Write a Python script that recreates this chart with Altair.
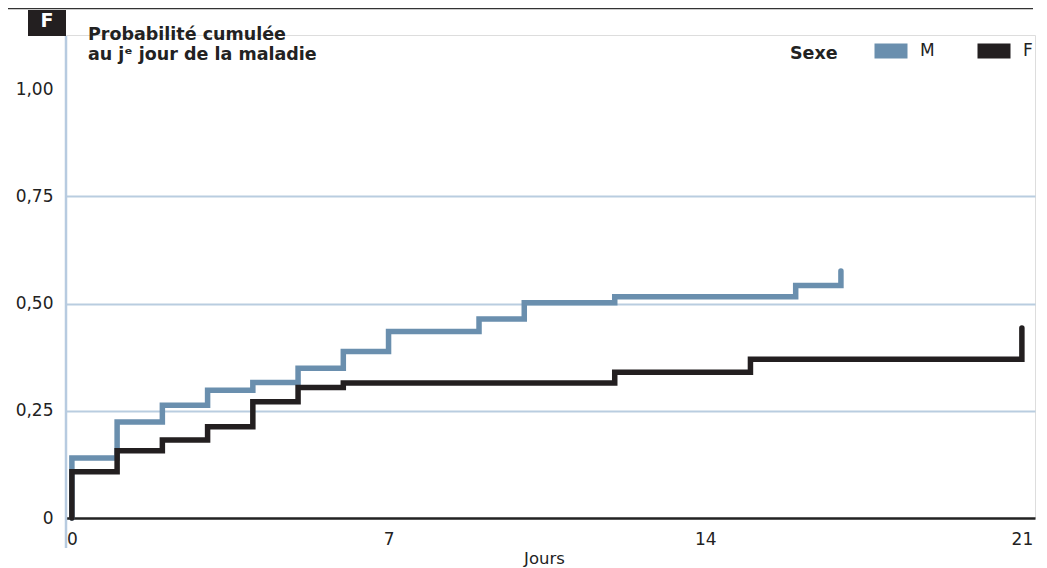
import altair as alt
import pandas as pd

# ---- data ----
days_M = [0, 0, 1, 2, 3, 4, 5, 6, 7, 9, 10, 12, 16, 17]
prob_M = [0, 0.140, 0.224, 0.263, 0.298, 0.316, 0.349, 0.388, 0.435, 0.464, 0.502, 0.516, 0.542, 0.576]
days_F = [0, 0, 1, 2, 3, 4, 5, 6, 12, 15, 21]
prob_F = [0, 0.108, 0.157, 0.182, 0.213, 0.271, 0.304, 0.315, 0.340, 0.370, 0.443]
sexes = ["M", "F"]
colors = ["#6a8fae", "#231f20"]
x_ticks = [0, 7, 14, 21]
y_ticks = [0, 0.25, 0.5, 0.75, 1.0]
title_lines = ["Probabilité cumulée", "au jᵉ jour de la maladie"]
panel_letter = "F"
x_title = "Jours"
legend_title = "Sexe"

FONT = "DejaVu Sans"
TXT = "#222222"

df_M = pd.DataFrame({"jour": days_M, "p": prob_M, "sexe": "M", "i": range(len(days_M))})
df_F = pd.DataFrame({"jour": days_F, "p": prob_F, "sexe": "F", "i": range(len(days_F))})
one = pd.DataFrame({"a": [0]})

x_enc = alt.X(
    "jour:Q",
    scale=alt.Scale(domain=[-0.13, 21.29], nice=False, zero=False),
    axis=alt.Axis(
        values=x_ticks, grid=False, ticks=False,
        domainColor=TXT, domainWidth=2.5,
        labelFont=FONT, labelFontSize=17, labelColor=TXT, labelPadding=13,
        title=x_title, titleFont=FONT, titleFontSize=16.5, titleFontWeight="normal",
        titleColor=TXT, titlePadding=3, titleX=478,
    ),
)
y_enc = alt.Y(
    "p:Q",
    scale=alt.Scale(domain=[0, 1.126], nice=False),
    axis=alt.Axis(
        values=y_ticks, domain=False, ticks=False, grid=True,
        gridColor="#b9cde0", gridWidth=2,
        gridOpacity={"condition": {"test": "datum.value > 0 && datum.value < 1", "value": 1}, "value": 0},
        labelExpr="datum.value == 0 ? '0' : replace(format(datum.value, '.2f'), '.', ',')",
        labelFont=FONT, labelFontSize=17, labelColor=TXT, labelPadding=13,
        title=None,
    ),
)
color_enc = alt.Color(
    "sexe:N",
    scale=alt.Scale(domain=sexes, range=colors),
    legend=alt.Legend(
        title=legend_title, orient="none", legendX=724, legendY=-8,
        direction="horizontal", titleOrient="left",
        titleAnchor="middle", titleBaseline="middle",
        titleFont=FONT, titleFontSize=17.5, titleFontWeight="bold", titleColor=TXT,
        titlePadding=29, padding=0,
        symbolType="M-1,0H1", symbolSize=1089, symbolStrokeWidth=15,
        labelFont=FONT, labelFontSize=17, labelColor=TXT, labelOffset=5,
        columnPadding=9,
    ),
)

line_M = alt.Chart(df_M).mark_line(interpolate="step-after", strokeWidth=5.5, strokeCap="round").encode(
    x=x_enc, y=y_enc, color=color_enc, order="i:Q"
)
line_F = alt.Chart(df_F).mark_line(interpolate="step-after", strokeWidth=5.5, strokeCap="round").encode(
    x=x_enc, y=y_enc, color=color_enc, order="i:Q"
)

y_line = alt.Chart(one).mark_rule(color="#b7cbe0", strokeWidth=2.5).encode(
    x=alt.value(0), y=alt.value(1), y2=alt.value(513)
)
top_line = alt.Chart(one).mark_rule(color="#333333", strokeWidth=1.5).encode(
    x=alt.value(-66), x2=alt.value(967), y=alt.value(-26.5)
)
box = alt.Chart(one).mark_rect(color="#231f20").encode(
    x=alt.value(-38), x2=alt.value(0), y=alt.value(-25), y2=alt.value(1)
)
box_text = alt.Chart(one).mark_text(
    text=panel_letter, font=FONT, fontSize=19, fontWeight="bold", color="white",
    align="center", baseline="alphabetic"
).encode(x=alt.value(-19), y=alt.value(-8))
title_text = alt.Chart(one).mark_text(
    text=title_lines, font=FONT, fontSize=17.5, fontWeight="bold", color=TXT,
    align="left", baseline="alphabetic", lineHeight=20
).encode(x=alt.value(22), y=alt.value(5))

chart = alt.layer(
    y_line, line_M, line_F, top_line, box, box_text, title_text
).properties(
    width=969, height=483,
    padding={"left": 58, "top": 27, "right": 4, "bottom": 50},
    autosize=alt.AutoSizeParams(type="none"),
).configure_view(stroke=None).configure(background="white")

chart.save("out.html", embed_options={"renderer": "svg", "actions": False})
